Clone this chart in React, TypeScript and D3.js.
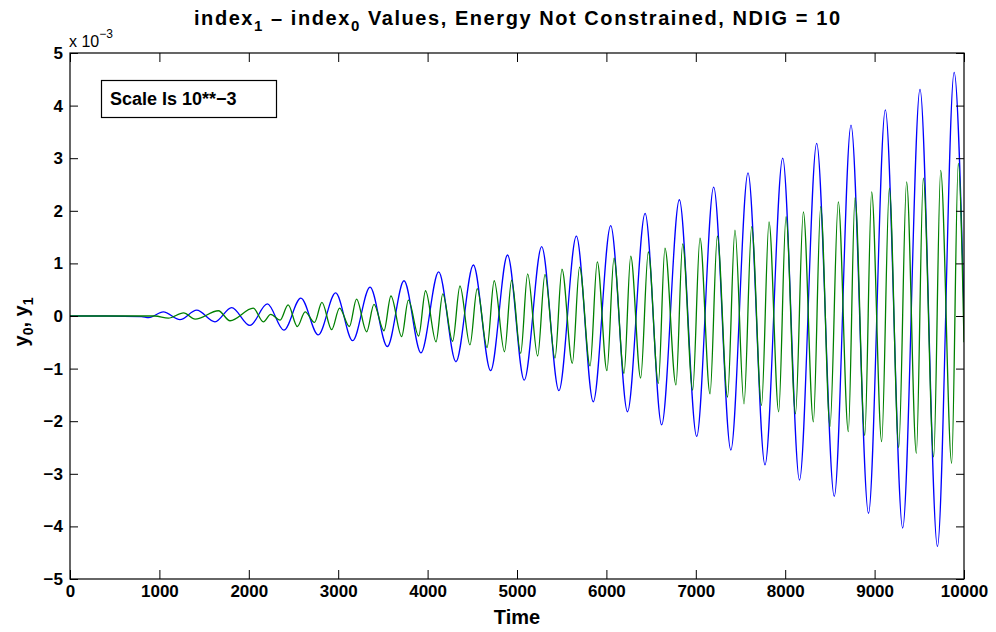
import { useEffect, useRef } from "react";
import * as d3 from "d3";

// ---- data (scale is 10^-3) ----
// y0 (blue): extrema of the oscillation, time and value
const blueTime = [
  0, 400, 800, 880, 1044, 1230, 1417, 1622, 1808, 2013, 2207, 2392, 2582, 2777,
  2971, 3162, 3356, 3550, 3736, 3926, 4124, 4317, 4512, 4705, 4894, 5081, 5276,
  5469, 5664, 5853, 6048, 6236, 6433, 6618, 6816, 7010, 7200, 7392, 7584, 7774,
  7972, 8160, 8352, 8549, 8736, 8932, 9120, 9314, 9508, 9703, 9890, 10000,
];
const blueVal = [
  0, 0, -0.01, -0.03, 0.08, -0.07, 0.11, -0.11, 0.16, -0.18, 0.23, -0.27, 0.34,
  -0.36, 0.44, -0.47, 0.55, -0.58, 0.67, -0.7, 0.84, -0.87, 0.97, -1.04, 1.16,
  -1.22, 1.32, -1.42, 1.52, -1.63, 1.72, -1.82, 1.95, -2.07, 2.21, -2.29, 2.45,
  -2.55, 2.72, -2.83, 3.0, -3.12, 3.28, -3.43, 3.63, -3.75, 3.92, -4.03, 4.31,
  -4.38, 4.63, 0.1,
];

// y1 (green)
const greenTime = [
  0, 950, 1100, 1270, 1400, 1660, 1790, 2050, 2163, 2245, 2350, 2440, 2543, 2630,
  2735, 2818, 2927, 3015, 3125, 3205, 3318, 3400, 3512, 3590, 3710, 3785, 3900,
  3977, 4094, 4170, 4280, 4362, 4474, 4555, 4665, 4745, 4860, 4940, 5041, 5119,
  5231, 5313, 5425, 5503, 5619, 5700, 5817, 5898, 6006, 6085, 6197, 6272, 6383,
  6469, 6581, 6655, 6778, 6853, 6965, 7047, 7159, 7241, 7355, 7438, 7539, 7625,
  7735, 7819, 7927, 8009, 8115, 8203, 8315, 8397, 8501, 8594, 8706, 8781, 8890,
  8967, 9079, 9165, 9270, 9358, 9467, 9545, 9661, 9739, 9862, 9936, 10000,
];
const greenVal = [
  0, 0, -0.04, 0.06, -0.06, 0.1, -0.09, 0.15, -0.11, 0.03, -0.08, 0.21, -0.2,
  0.08, -0.12, 0.26, -0.26, 0.15, -0.2, 0.32, -0.3, 0.22, -0.28, 0.38, -0.39,
  0.3, -0.38, 0.48, -0.49, 0.42, -0.48, 0.57, -0.55, 0.52, -0.6, 0.67, -0.68,
  0.68, -0.71, 0.8, -0.76, 0.79, -0.8, 0.89, -0.9, 0.93, -0.95, 1.03, -1.04,
  1.1, -1.09, 1.14, -1.18, 1.22, -1.28, 1.29, -1.31, 1.37, -1.41, 1.48, -1.48,
  1.52, -1.54, 1.63, -1.67, 1.7, -1.7, 1.79, -1.82, 1.89, -1.86, 1.98, -2.01,
  2.08, -2.1, 2.17, -2.2, 2.25, -2.27, 2.36, -2.39, 2.43, -2.5, 2.55, -2.61,
  2.62, -2.68, 2.77, -2.8, 2.9, -0.5,
];

const xTicks = [0, 1000, 2000, 3000, 4000, 5000, 6000, 7000, 8000, 9000, 10000];
const yTicks = [-5, -4, -3, -2, -1, 0, 1, 2, 3, 4, 5];

const W = 996;
const H = 632;
const FONT = "'Liberation Sans', Arial, Helvetica, sans-serif";

export default function App() {
  const svgRef = useRef<SVGSVGElement>(null);

  useEffect(() => {
    const svg = d3.select(svgRef.current);
    svg.selectAll("*").remove();

    const left = 70, right = 964, top = 53, bottom = 579;
    const x = d3.scaleLinear().domain([0, 10000]).range([left, right]);
    const y = d3.scaleLinear().domain([-5, 5]).range([bottom, top]);

    svg.append("rect").attr("width", W).attr("height", H).attr("fill", "#fff");

    svg.append("clipPath").attr("id", "plotclip")
      .append("rect")
      .attr("x", left).attr("y", top)
      .attr("width", right - left).attr("height", bottom - top);

    const line = d3.line<[number, number]>()
      .x((d) => x(d[0]))
      .y((d) => y(d[1]))
      .curve(d3.curveMonotoneX);

    const blue = blueTime.map((t, i) => [t, blueVal[i]] as [number, number]);
    const green = greenTime.map((t, i) => [t, greenVal[i]] as [number, number]);

    const g = svg.append("g").attr("clip-path", "url(#plotclip)");
    g.append("path").attr("d", line(blue))
      .attr("fill", "none").attr("stroke", "#0000ff").attr("stroke-width", 1.3);
    g.append("path").attr("d", line(green))
      .attr("fill", "none").attr("stroke", "#008000").attr("stroke-width", 1.3);

    // axes, ticks pointing inward like matlab
    const styleAxis = (sel: any) => {
      sel.select(".domain").remove();
      sel.selectAll(".tick line").attr("stroke", "#000").attr("stroke-width", 1);
      sel.selectAll(".tick text")
        .attr("font-family", FONT).attr("font-size", 17)
        .attr("font-weight", "bold").attr("fill", "#000");
    };

    svg.append("g").attr("transform", `translate(0,${bottom})`)
      .call(d3.axisBottom(x).tickValues(xTicks).tickSize(-9).tickPadding(6).tickFormat((d) => String(d)))
      .call(styleAxis);
    svg.append("g").attr("transform", `translate(0,${top})`)
      .call(d3.axisTop(x).tickValues(xTicks).tickSize(-9).tickFormat(() => ""))
      .call(styleAxis);
    svg.append("g").attr("transform", `translate(${left},0)`)
      .call(d3.axisLeft(y).tickValues(yTicks).tickSize(-8).tickPadding(7)
        .tickFormat((d) => (+d < 0 ? "\u2212" + Math.abs(+d) : String(d))))
      .call(styleAxis);
    svg.append("g").attr("transform", `translate(${right},0)`)
      .call(d3.axisRight(y).tickValues(yTicks).tickSize(-8).tickFormat(() => ""))
      .call(styleAxis);

    svg.append("rect")
      .attr("x", left).attr("y", top)
      .attr("width", right - left).attr("height", bottom - top)
      .attr("fill", "none").attr("stroke", "#000").attr("stroke-width", 1.2);

    // title
    const title = svg.append("text")
      .attr("x", (left + right) / 2).attr("y", 25)
      .attr("text-anchor", "middle")
      .attr("textLength", 646).attr("lengthAdjust", "spacing")
      .attr("font-family", FONT).attr("font-size", 20).attr("font-weight", "bold")
      .attr("fill", "#000");
    title.append("tspan").text("index");
    title.append("tspan").attr("dy", 6).attr("font-size", 15).text("1");
    title.append("tspan").attr("dy", -6).text(" \u2013 index");
    title.append("tspan").attr("dy", 6).attr("font-size", 15).text("0");
    title.append("tspan").attr("dy", -6).text(" Values, Energy Not Constrained, NDIG = 10");

    // exponent marker
    const ex = svg.append("text")
      .attr("x", 69).attr("y", 47)
      .attr("font-family", FONT).attr("font-size", 16).attr("fill", "#000");
    ex.append("tspan").text("x 10");
    ex.append("tspan").attr("dy", -9).attr("font-size", 12).text("\u22123");

    // axis labels
    svg.append("text")
      .attr("x", (left + right) / 2).attr("y", 624)
      .attr("text-anchor", "middle")
      .attr("font-family", FONT).attr("font-size", 20).attr("font-weight", "bold")
      .text("Time");

    const yl = svg.append("text")
      .attr("transform", "translate(28,322) rotate(-90)")
      .attr("text-anchor", "middle")
      .attr("font-family", FONT).attr("font-size", 20).attr("font-weight", "bold");
    yl.append("tspan").text("y");
    yl.append("tspan").attr("dy", 5).attr("font-size", 14).text("0");
    yl.append("tspan").attr("dy", -5).text(", y");
    yl.append("tspan").attr("dy", 5).attr("font-size", 14).text("1");

    // annotation box
    svg.append("rect")
      .attr("x", 101.5).attr("y", 80.5).attr("width", 175).attr("height", 37)
      .attr("fill", "#fff").attr("stroke", "#000").attr("stroke-width", 1.2);
    svg.append("text")
      .attr("x", 110).attr("y", 105)
      .attr("font-family", FONT).attr("font-size", 18).attr("font-weight", "bold")
      .text("Scale Is 10**\u22123");
  }, []);

  return (
    <svg
      ref={svgRef}
      width={W}
      height={H}
      style={{ position: "absolute", left: 0, top: 0, display: "block" }}
    />
  );
}
